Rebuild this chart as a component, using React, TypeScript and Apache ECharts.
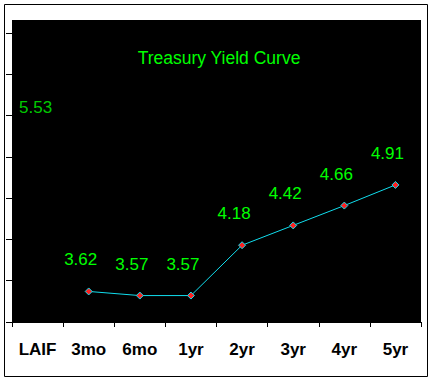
import React, { useEffect, useRef } from "react";
import * as echarts from "echarts";

const categories = ["LAIF", "3mo", "6mo", "1yr", "2yr", "3yr", "4yr", "5yr"];
const laifValues: (number | string)[] = [5.53, "-", "-", "-", "-", "-", "-", "-"];
const treasuryValues: (number | string)[] = ["-", 3.62, 3.57, 3.57, 4.18, 4.42, 4.66, 4.91];
const chartTitle = "Treasury Yield Curve";

const FONT = "'Liberation Sans', Arial, sans-serif";

export default function App() {
  const ref = useRef<HTMLDivElement>(null);
  useEffect(() => {
    document.body.style.margin = "0";
    if (!ref.current) return;
    const chart = echarts.init(ref.current, undefined, { renderer: "svg" });
    const labelStyle = {
      show: true,
      position: "top",
      color: "#00ff00",
      fontSize: 17,
      fontFamily: FONT,
      formatter: (p: any) => Number(p.value).toFixed(2),
    };
    chart.setOption({
      animation: false,
      backgroundColor: "#ffffff",
      title: {
        text: chartTitle,
        left: 214,
        textAlign: "center",
        top: 44,
        textStyle: { color: "#00ff00", fontSize: 17.5, fontWeight: "normal", fontFamily: FONT },
      },
      graphic: [
        {
          type: "rect",
          z: 0,
          shape: { x: 4.5, y: 4.5, width: 423, height: 372 },
          style: { fill: "none", stroke: "#000", lineWidth: 1 },
        },
        {
          type: "rect",
          z: 0,
          shape: { x: 12, y: 20, width: 409, height: 302 },
          style: { fill: "#000" },
        },
      ],
      grid: { left: 12, right: 13, top: 33, bottom: 59 },
      xAxis: {
        type: "category",
        data: categories,
        boundaryGap: true,
        axisLine: { show: true, lineStyle: { color: "#000", width: 1 } },
        axisTick: { show: true, length: 5, lineStyle: { color: "#000" } },
        axisLabel: {
          color: "#000",
          fontSize: 17,
          fontWeight: "bold",
          fontFamily: FONT,
          margin: 19,
          interval: 0,
        },
        splitLine: { show: false },
      },
      yAxis: {
        type: "value",
        min: 3.25,
        max: 6.75,
        interval: 0.5,
        axisLine: { show: true, lineStyle: { color: "#000" } },
        axisTick: { show: true, length: 6, lineStyle: { color: "#000" } },
        axisLabel: { show: false },
        splitLine: { show: false },
      },
      series: [
        {
          name: "LAIF",
          type: "scatter",
          data: laifValues,
          symbolSize: 0,
          label: { ...labelStyle, offset: [-2, -13] },
        },
        {
          name: "Treasury",
          type: "line",
          data: treasuryValues,
          connectNulls: false,
          lineStyle: { color: "#11dded", width: 1 },
          symbol: "diamond",
          symbolSize: 7,
          itemStyle: { color: "#ff2020", borderColor: "#11dded", borderWidth: 1 },
          label: { ...labelStyle, offset: [-8, -14] },
        },
      ],
    });
    return () => chart.dispose();
  }, []);
  return (
    <div
      ref={ref}
      style={{ position: "absolute", left: 0, top: 0, width: 434, height: 381 }}
    />
  );
}
